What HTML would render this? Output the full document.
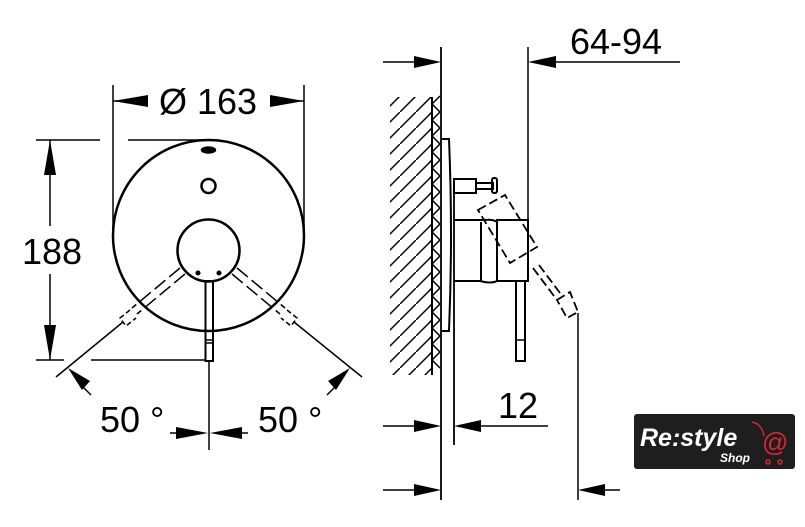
<!DOCTYPE html>
<html><head><meta charset="utf-8"><style>
html,body{margin:0;padding:0;background:#fff;width:805px;height:527px;overflow:hidden}
svg{display:block}
text{font-family:"Liberation Sans",sans-serif;fill:#000}
</style></head><body>
<svg width="805" height="527" viewBox="0 0 805 527" xmlns="http://www.w3.org/2000/svg">
<defs>
<pattern id="h" width="16" height="16" patternUnits="userSpaceOnUse">
<path d="M-2,18 L18,-2" stroke="#000" stroke-width="1.5"/>
</pattern>
</defs>
<g stroke="#000" fill="none" stroke-width="1.5">
<circle cx="208.5" cy="235.5" r="95.5" stroke-width="2.5"/>
<circle cx="208.5" cy="250.5" r="31" stroke-width="2.5"/>
<circle cx="208.5" cy="186" r="7" stroke-width="2.5"/>
<ellipse cx="208.5" cy="150" rx="7" ry="3" fill="#000"/>
<circle cx="198" cy="273" r="1.8" fill="#000"/>
<circle cx="219" cy="273" r="1.8" fill="#000"/>
<rect x="205.5" y="281" width="7.5" height="80" stroke-width="2"/>
<line x1="205.5" y1="340" x2="213" y2="340"/>
<line x1="205.5" y1="343" x2="213" y2="343"/>
<line x1="209" y1="361" x2="209" y2="450"/>
<line x1="113" y1="85" x2="113" y2="230"/>
<line x1="304" y1="85" x2="304" y2="230"/>
<line x1="36" y1="140" x2="100" y2="140"/>
<line x1="128" y1="140" x2="205" y2="140"/>
<line x1="36" y1="360" x2="64" y2="360"/>
<line x1="91" y1="360" x2="206" y2="360"/>
<line x1="113" y1="101" x2="148" y2="101"/>
<line x1="270" y1="101" x2="304" y2="101"/>
<line x1="50" y1="140" x2="50" y2="226"/>
<line x1="50" y1="274" x2="50" y2="360"/>
<g stroke-dasharray="14,5">
<line x1="180" y1="268" x2="132" y2="308"/>
<line x1="185" y1="274" x2="137" y2="314"/>
<line x1="237" y1="268" x2="285" y2="308"/>
<line x1="232" y1="274" x2="280" y2="314"/>
</g>
<g stroke-dasharray="5,3">
<path d="M130,310 L120,318 L126,326 L136,318"/>
<path d="M287,310 L297,318 L291,326 L281,318"/>
</g>
<line x1="123" y1="322" x2="56" y2="377"/>
<line x1="294" y1="322" x2="362" y2="377"/>
<line x1="91" y1="395" x2="78" y2="382"/>
<line x1="327" y1="395" x2="340" y2="382"/>
<line x1="170" y1="433" x2="196" y2="433"/>
<line x1="222" y1="433" x2="248" y2="433"/>

<rect x="390" y="97" width="41" height="278" fill="url(#h)" stroke="none"/>
<line x1="432" y1="97" x2="432" y2="375" stroke-width="2"/>
<path d="M432,104 l8,-8 M432,120 l8,-8 M432,136 l8,-8 M432,152 l8,-8 M432,168 l8,-8 M432,184 l8,-8 M432,200 l8,-8 M432,216 l8,-8 M432,232 l8,-8 M432,248 l8,-8 M432,264 l8,-8 M432,280 l8,-8 M432,296 l8,-8 M432,312 l8,-8 M432,328 l8,-8 M432,344 l8,-8 M432,360 l8,-8"/>
<path d="M432,104 l8,8 M432,120 l8,8 M432,136 l8,8 M432,152 l8,8 M432,168 l8,8 M432,184 l8,8 M432,200 l8,8 M432,216 l8,8 M432,232 l8,8 M432,248 l8,8 M432,264 l8,8 M432,280 l8,8 M432,296 l8,8 M432,312 l8,8 M432,328 l8,8 M432,344 l8,8 M432,360 l8,8"/>
<line x1="441" y1="47" x2="441" y2="500" stroke-width="1.8"/>
<path d="M441,139 L449,139 Q453,235 449,331 L441,331" stroke-width="2"/>
<line x1="454" y1="190" x2="454" y2="445" stroke-width="1.8"/>
<rect x="454" y="179" width="22" height="14" stroke-width="2"/>
<rect x="476" y="183" width="17" height="6" stroke-width="2"/>
<rect x="492" y="178" width="5" height="15" rx="2" stroke-width="2"/>
<path d="M454,220 L484,220 Q493,219 497,222 L497,281 Q491,284 480,281 L454,281" stroke-width="2"/>
<line x1="481" y1="222" x2="481" y2="281" stroke-width="2"/>
<rect x="497" y="220" width="31" height="61" stroke-width="2"/>
<rect x="516" y="281" width="9" height="80" stroke-width="2"/>
<line x1="516" y1="340" x2="525" y2="340"/>
<line x1="528" y1="47" x2="528" y2="220"/>
<g stroke-dasharray="9,4" stroke-width="1.8">
<path d="M478,210 L505,195 L537,247 L510,263 Z"/>
<line x1="533" y1="268" x2="557" y2="300"/>
<line x1="539" y1="265" x2="563" y2="297"/>
<path d="M557,300 L570,292 L578,312 L567,318 Z"/>
</g>
<line x1="578" y1="313" x2="578" y2="500"/>
<line x1="383" y1="62" x2="420" y2="62"/>
<line x1="556" y1="62" x2="680" y2="62"/>
<line x1="383" y1="426" x2="420" y2="426"/>
<line x1="475" y1="426" x2="548" y2="426"/>
<line x1="383" y1="490" x2="420" y2="490"/>
<line x1="600" y1="490" x2="620" y2="490"/>
</g>
<g fill="#000">
<polygon points="113,101 148,95 148,107"/>
<polygon points="304,101 270,95 270,107"/>
<polygon points="50,140 44,175 56,175"/>
<polygon points="50,360 44,325 56,325"/>
<polygon points="68,368 90,381 82,390"/>
<polygon points="350,368 328,381 336,390"/>
<polygon points="208,433 176,427 176,439"/>
<polygon points="210,433 242,427 242,439"/>
<polygon points="441,62 414,56 414,68"/>
<polygon points="528,62 556,56 556,68"/>
<polygon points="441,426 414,420 414,432"/>
<polygon points="454,426 481,420 481,432"/>
<polygon points="441,490 414,484 414,496"/>
<polygon points="578,490 605,484 605,496"/>
</g>
<text x="208" y="114" font-size="36" text-anchor="middle">Ø 163</text>
<text x="52" y="264" font-size="36" text-anchor="middle">188</text>
<text x="100" y="432" font-size="36">50 °</text>
<text x="258" y="432" font-size="36">50 °</text>
<text x="616" y="54" font-size="36" text-anchor="middle">64-94</text>
<text x="518" y="418" font-size="36" text-anchor="middle">12</text>
<rect x="634" y="414" width="161" height="55" rx="3" fill="#1e1e1e"/>
<text x="640" y="446" font-size="25" font-style="italic" font-weight="bold" style="fill:#fff">Re:style</text>
<text x="720" y="462" font-size="12" font-style="italic" font-weight="bold" style="fill:#fff">Shop</text>
<text x="762" y="451" font-size="26" style="fill:#d8262f">@</text>
<g stroke="#d8262f" fill="none" stroke-width="1.5">
<path d="M752,422 Q762,424 764,436"/>
<circle cx="768" cy="462" r="2"/>
<circle cx="780" cy="462" r="2"/>
</g>
</svg>
</body></html>
